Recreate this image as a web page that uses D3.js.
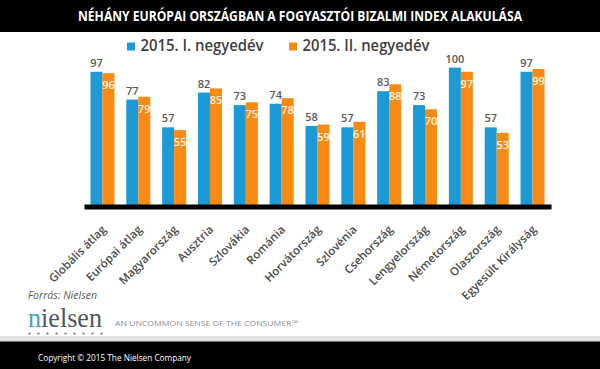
<!DOCTYPE html>
<html>
<head>
<meta charset="utf-8">
<script src="https://cdn.jsdelivr.net/npm/d3@7"></script>
<style>
  html, body { margin: 0; padding: 0; background: #fff; }
  svg { display: block; }
</style>
</head>
<body>
<svg id="chart" width="600" height="369"></svg>
<script>
const categories = ["Globális átlag", "Európai átlag", "Magyarország", "Ausztria", "Szlovákia", "Románia",
  "Horvátország", "Szlovénia", "Csehország", "Lengyelország", "Németország", "Olaszország", "Egyesült Királyság"];
const seriesNames = ["2015. I. negyedév", "2015. II. negyedév"];
const q1Values = [97, 77, 57, 82, 73, 74, 58, 57, 83, 73, 100, 57, 97];
const q2Values = [96, 79, 55, 85, 75, 78, 59, 61, 88, 70, 97, 53, 99];
const titleText = "NÉHÁNY EURÓPAI ORSZÁGBAN A FOGYASZTÓI BIZALMI INDEX ALAKULÁSA";
const sourceText = "Forrás: Nielsen";
const taglineText = "AN UNCOMMON SENSE OF THE CONSUMER™";
const copyrightText = "Copyright © 2015 The Nielsen Company";

const colors = ["#1b9ad6", "#f98a13"];
const font = "'Open Sans', 'DejaVu Sans', sans-serif";

const svg = d3.select("#chart");

// Header band
svg.append("rect").attr("x", 0).attr("y", 0).attr("width", 600).attr("height", 32).attr("fill", "#000");
svg.append("text").attr("x", 300).attr("y", 21).attr("text-anchor", "middle")
  .attr("font-family", font).attr("font-weight", 700).attr("font-size", 13.5)
  .attr("fill", "#fff").attr("textLength", 444).attr("lengthAdjust", "spacingAndGlyphs")
  .text(titleText);

// Scales
const x0 = d3.scaleBand().domain(categories).range([84, 551]).paddingInner(0.33).paddingOuter(0.18);
const x1 = d3.scaleBand().domain([0, 1]).range([0, x0.bandwidth()]);
const y = d3.scaleLinear().domain([0, 100]).range([206.5, 67.6]);

const data = categories.map((c, i) => ({ cat: c, vals: [q1Values[i], q2Values[i]] }));

const groups = svg.append("g").selectAll("g").data(data).join("g")
  .attr("transform", d => `translate(${x0(d.cat)},0)`);

groups.selectAll("rect").data(d => d.vals.map((v, k) => ({ v, k }))).join("rect")
  .attr("x", d => x1(d.k))
  .attr("y", d => y(d.v))
  .attr("width", x1.bandwidth())
  .attr("height", d => y(0) - y(d.v))
  .attr("fill", d => colors[d.k]);

// Value labels
groups.selectAll("text.v").data(d => d.vals.map((v, k) => ({ v, k }))).join("text")
  .attr("class", "v")
  .attr("x", d => x1(d.k) + x1.bandwidth() / 2)
  .attr("y", d => d.k === 0 ? y(d.v) - 5 : y(d.v) + 16)
  .attr("text-anchor", "middle")
  .attr("font-family", font).attr("font-weight", 600).attr("font-size", 11)
  .attr("fill", d => d.k === 0 ? "#595959" : "#fff4e4")
  .text(d => d.v);

// Axis
const axis = svg.append("g").attr("transform", `translate(0,${y(0)})`)
  .call(d3.axisBottom(x0).tickSize(0).tickSizeOuter(0));
axis.select(".domain").attr("stroke", "#000").attr("stroke-width", 5);
axis.selectAll(".tick text")
  .attr("x", 0).attr("y", 0).attr("dy", "0.35em")
  .attr("transform", "translate(1.5,21) rotate(-45)")
  .attr("text-anchor", "end")
  .attr("font-family", font).attr("font-weight", 600).attr("font-size", 11.5)
  .attr("fill", "#4a4a4a");

// Legend
const legendX = [127, 289];
const legend = svg.append("g").selectAll("g").data(seriesNames).join("g")
  .attr("transform", (d, i) => `translate(${legendX[i]},42.5)`);
legend.append("rect").attr("width", 8).attr("height", 8).attr("fill", (d, i) => colors[i]);
legend.append("text").attr("x", 13.5).attr("y", 8)
  .attr("font-family", font).attr("font-weight", 600).attr("font-size", 15.5)
  .attr("fill", "#404040")
  .attr("textLength", (d, i) => i === 0 ? 123 : 127).attr("lengthAdjust", "spacingAndGlyphs")
  .text(d => d);

// Footer
svg.append("text").attr("x", 28).attr("y", 299)
  .attr("font-family", font).attr("font-style", "italic").attr("font-size", 10.5)
  .attr("fill", "#595959").attr("textLength", 69).attr("lengthAdjust", "spacingAndGlyphs")
  .text(sourceText);

const logo = svg.append("text").attr("x", 28).attr("y", 327)
  .attr("font-family", "'Liberation Serif', 'DejaVu Serif', serif").attr("font-size", 27)
  .attr("textLength", 74).attr("lengthAdjust", "spacingAndGlyphs");
logo.append("tspan").attr("fill", "#3aa6c4").text("n");
logo.append("tspan").attr("fill", "#4d5660").text("ielsen");

svg.append("g").selectAll("circle").data(d3.range(9)).join("circle")
  .attr("cx", d => 29.5 + d * 9).attr("cy", 333.5).attr("r", 1.1).attr("fill", "#55708a");

svg.append("text").attr("x", 115).attr("y", 325.5)
  .attr("font-family", font).attr("font-size", 7.5).attr("fill", "#8a8a8a")
  .attr("textLength", 183).attr("lengthAdjust", "spacingAndGlyphs")
  .text(taglineText);

svg.append("rect").attr("x", 0).attr("y", 336).attr("width", 600).attr("height", 6).attr("fill", "#e2e2e2");
svg.append("rect").attr("x", 0).attr("y", 341.5).attr("width", 600).attr("height", 27.5).attr("fill", "#000");
svg.append("text").attr("x", 38).attr("y", 361)
  .attr("font-family", font).attr("font-size", 9.5).attr("fill", "#fff")
  .attr("textLength", 153).attr("lengthAdjust", "spacingAndGlyphs")
  .text(copyrightText);
</script>
</body>
</html>
